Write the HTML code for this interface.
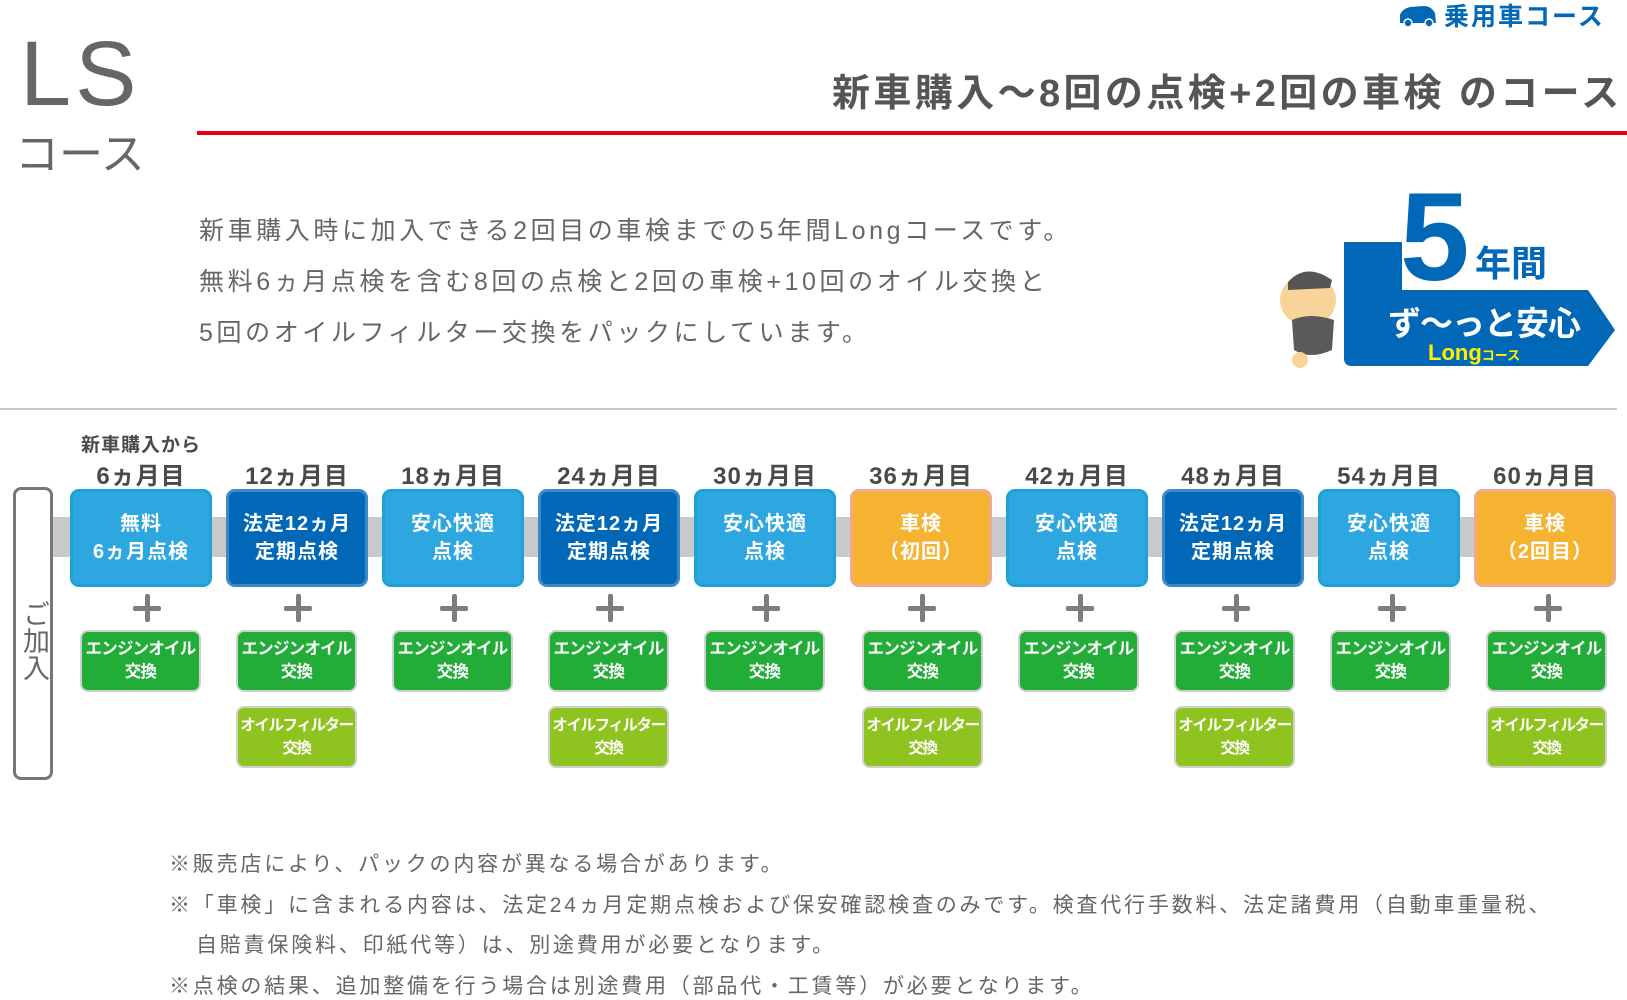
<!DOCTYPE html>
<html><head><meta charset="utf-8">
<style>
*{margin:0;padding:0;box-sizing:border-box}
body{width:1627px;height:997px;background:#fff;position:relative;overflow:hidden;font-family:"Liberation Sans","Noto Sans CJK JP",sans-serif;color:#595757}
.a{position:absolute;white-space:nowrap}
.box{position:absolute;top:489px;width:142px;height:98px;border-radius:9px;color:#fff;font-weight:bold;font-size:20px;line-height:28px;text-align:center;display:flex;align-items:center;justify-content:center;letter-spacing:1px}
.lb{background:#2ea7e0;border:3px solid #1ea0d8}
.db{background:#0068b7;border:3px solid #3a8acb}
.or{background:#f6b331;border:3px solid #f0a98a}
.hd{position:absolute;top:456px;width:142px;text-align:center;font-weight:bold;font-size:24px;color:#4a4a4a;letter-spacing:1px}
.pl{position:absolute;top:594px;width:28px;height:28px}
.pl:before{content:"";position:absolute;left:0;top:12px;width:28px;height:5px;background:#7d7d7d;border-radius:2px}
.pl:after{content:"";position:absolute;left:12px;top:0;width:5px;height:28px;background:#7d7d7d;border-radius:2px}
.gr{position:absolute;width:121px;height:62px;border-radius:8px;color:#fff;font-weight:bold;font-size:16.5px;line-height:23px;text-align:center;display:flex;align-items:center;justify-content:center;border:2px solid #d0d0d0;white-space:nowrap;letter-spacing:-0.8px}
.g1{top:630px;background:#22ac38}
.g2{top:706px;background:#8fc31f;font-size:15.5px;letter-spacing:-1.4px}
.fn{position:absolute;left:169px;font-size:21px;color:#666;white-space:nowrap;letter-spacing:2.8px}
</style></head><body>

<div class="a" style="left:20px;top:22px;font-size:92px;font-weight:300;color:#666;letter-spacing:4px">LS</div>
<div class="a" style="left:15px;top:118px;font-size:44px;color:#666">コース</div>

<div class="a" style="left:1398px;top:-3px;font-size:25px;color:#0068b7;font-weight:bold;letter-spacing:2px">
<svg width="40" height="24" viewBox="0 0 40 24" style="vertical-align:-2px;margin-right:6px"><path d="M2 20 L2 12 Q4 6 12 4 L26 3 Q33 3 37 10 L38 20 Z" fill="#0068b7"/><circle cx="10" cy="20" r="4" fill="#0068b7" stroke="#fff" stroke-width="1.5"/><circle cx="31" cy="20" r="4" fill="#0068b7" stroke="#fff" stroke-width="1.5"/></svg>乗用車コース</div>

<div class="a" style="left:832px;top:62px;font-size:38px;font-weight:bold;color:#555;letter-spacing:3.4px">新車購入〜8回の点検+2回の車検 のコース</div>
<div class="a" style="left:197px;top:131px;width:1430px;height:4px;background:#e60012"></div>

<div class="a" style="left:199px;top:206px;font-size:25px;color:#666;line-height:51px;letter-spacing:3.6px">新車購入時に加入できる2回目の車検までの5年間Longコースです。<br>無料6ヵ月点検を含む8回の点検と2回の車検+10回のオイル交換と<br>5回のオイルフィルター交換をパックにしています。</div>

<svg class="a" style="left:1270px;top:180px" width="357" height="192" viewBox="0 0 357 192">
<path d="M74 62 L132 62 L132 110 L318 110 L345 150 L318 186 L82 186 Q74 186 74 178 Z" fill="#0068b7"/>
<text x="130" y="100" font-family="Liberation Sans" font-weight="bold" font-size="125" fill="#0068b7">5</text>
<text x="205" y="96" font-family="Liberation Sans,Noto Sans CJK JP,sans-serif" font-weight="bold" font-size="36" fill="#0068b7">年間</text>
<text x="118" y="155" font-family="Liberation Sans,Noto Sans CJK JP,sans-serif" font-weight="bold" font-size="33" fill="#fff" letter-spacing="-1">ず〜っと安心</text>
<text x="158" y="180" font-family="Liberation Sans,Noto Sans CJK JP,sans-serif" font-weight="bold" font-size="22" fill="#fff100">Long<tspan font-size="13">コース</tspan></text>
<ellipse cx="38" cy="120" rx="28" ry="26" fill="#f9d49a"/>
<path d="M18 102 Q36 82 62 100 L60 108 L18 110 Z" fill="#555"/>
<path d="M22 140 Q40 132 64 140 L62 170 Q40 180 24 170 Z" fill="#5a5a5a"/>
<circle cx="30" cy="180" r="8" fill="#f9d49a"/>
</svg>

<div class="a" style="left:0;top:408px;width:1617px;height:2px;background:#c8c8c8"></div>

<div class="a" style="left:53px;top:517px;width:1563px;height:40px;background:#c9c9c9"></div>
<div class="a" style="left:13px;top:487px;width:40px;height:293px;border:3px solid #777;border-radius:8px;background:#fff"></div>
<div class="a" style="left:19px;top:600px;width:30px;font-size:27px;color:#666;line-height:30px;writing-mode:vertical-rl">ご加入</div>

<div class="a" style="left:70px;top:430px;width:142px;text-align:center;font-weight:bold;font-size:19px;color:#4a4a4a;letter-spacing:1px">新車購入から</div>
<div class="hd" style="left:70px">6ヵ月目</div>
<div class="hd" style="left:226px">12ヵ月目</div>
<div class="hd" style="left:382px">18ヵ月目</div>
<div class="hd" style="left:538px">24ヵ月目</div>
<div class="hd" style="left:694px">30ヵ月目</div>
<div class="hd" style="left:850px">36ヵ月目</div>
<div class="hd" style="left:1006px">42ヵ月目</div>
<div class="hd" style="left:1162px">48ヵ月目</div>
<div class="hd" style="left:1318px">54ヵ月目</div>
<div class="hd" style="left:1474px">60ヵ月目</div>

<div class="box lb" style="left:70px">無料<br>6ヵ月点検</div>
<div class="box db" style="left:226px">法定12ヵ月<br>定期点検</div>
<div class="box lb" style="left:382px">安心快適<br>点検</div>
<div class="box db" style="left:538px">法定12ヵ月<br>定期点検</div>
<div class="box lb" style="left:694px">安心快適<br>点検</div>
<div class="box or" style="left:850px">車検<br>（初回）</div>
<div class="box lb" style="left:1006px">安心快適<br>点検</div>
<div class="box db" style="left:1162px">法定12ヵ月<br>定期点検</div>
<div class="box lb" style="left:1318px">安心快適<br>点検</div>
<div class="box or" style="left:1474px">車検<br>（2回目）</div>

<div class="pl" style="left:133px"></div><div class="pl" style="left:284px"></div><div class="pl" style="left:440px"></div><div class="pl" style="left:596px"></div><div class="pl" style="left:752px"></div><div class="pl" style="left:908px"></div><div class="pl" style="left:1066px"></div><div class="pl" style="left:1222px"></div><div class="pl" style="left:1378px"></div><div class="pl" style="left:1534px"></div>

<div class="gr g1" style="left:80px">エンジンオイル<br>交換</div>
<div class="gr g1" style="left:236px">エンジンオイル<br>交換</div>
<div class="gr g1" style="left:392px">エンジンオイル<br>交換</div>
<div class="gr g1" style="left:548px">エンジンオイル<br>交換</div>
<div class="gr g1" style="left:704px">エンジンオイル<br>交換</div>
<div class="gr g1" style="left:862px">エンジンオイル<br>交換</div>
<div class="gr g1" style="left:1018px">エンジンオイル<br>交換</div>
<div class="gr g1" style="left:1174px">エンジンオイル<br>交換</div>
<div class="gr g1" style="left:1330px">エンジンオイル<br>交換</div>
<div class="gr g1" style="left:1486px">エンジンオイル<br>交換</div>

<div class="gr g2" style="left:236px">オイルフィルター<br>交換</div>
<div class="gr g2" style="left:548px">オイルフィルター<br>交換</div>
<div class="gr g2" style="left:862px">オイルフィルター<br>交換</div>
<div class="gr g2" style="left:1174px">オイルフィルター<br>交換</div>
<div class="gr g2" style="left:1486px">オイルフィルター<br>交換</div>

<div class="fn" style="top:848px">※販売店により、パックの内容が異なる場合があります。</div>
<div class="fn" style="top:889px">※「車検」に含まれる内容は、法定24ヵ月定期点検および保安確認検査のみです。検査代行手数料、法定諸費用（自動車重量税、</div>
<div class="fn" style="top:929px;left:196px">自賠責保険料、印紙代等）は、別途費用が必要となります。</div>
<div class="fn" style="top:970px">※点検の結果、追加整備を行う場合は別途費用（部品代・工賃等）が必要となります。</div>
</body></html>
